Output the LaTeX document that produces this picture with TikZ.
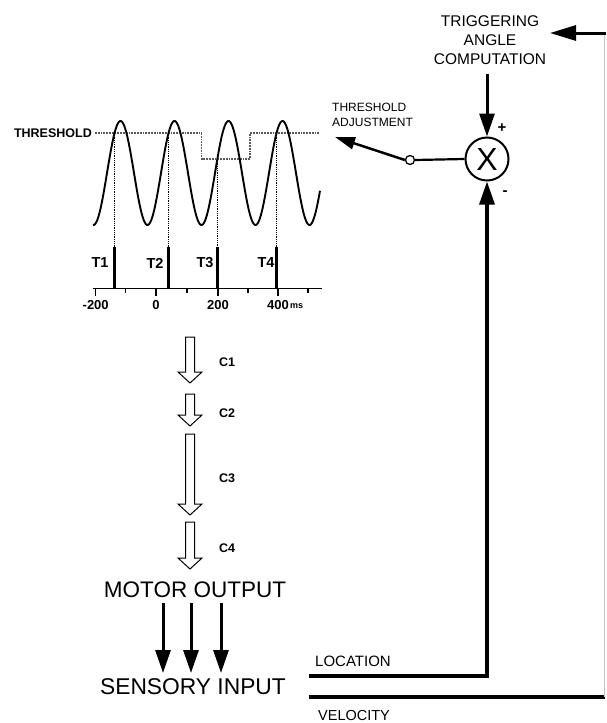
\documentclass[tikz,border=0pt]{standalone}
\usepackage{fontspec}
\setmainfont{Liberation Sans}
\usetikzlibrary{arrows.meta,calc}
\begin{document}
\begin{tikzpicture}[x=1pt,y=-1pt,
  txt/.style={inner sep=0pt, align=center},
  boldlbl/.style={txt, font=\bfseries\fontsize{13}{15}\selectfont},
  thick line/.style={line width=3pt},
  bigtip/.style={-{Triangle[width=15pt,length=23pt]}},
  hollow/.style={line width=1pt, fill=white},
  pulse/.style={line width=3.5pt},
  guide/.style={densely dotted, line width=0.8pt},
  thresh/.style={densely dotted, line width=1.8pt, gray!70!black}
]
\useasboundingbox (0,0) rectangle (606,723);

% ---------- threshold and wave ----------
\node[txt, font=\bfseries\fontsize{12.5}{14}\selectfont, anchor=east] (thlabel) at (92,133) {THRESHOLD};
\draw[thresh] (95,133) -- (201.5,133) -- (201.5,159) -- (250,159) -- (250,133) -- (320,133);
\draw[line width=1.9pt] plot[domain=93:320, samples=220] (\x, {173 - 52*cos(6.6667*(\x-120.5))});

% dotted guides from crossings to pulses
\foreach \px/\py in {114.5/133, 168.5/133, 217.3/159, 276.5/133}
  \draw[guide] (\px,\py) -- (\px,247);
% pulses
\foreach \px in {114.5, 168.5, 217.3, 276.5}
  \draw[pulse] (\px,247) -- (\px,288);
\node[boldlbl, font=\bfseries\fontsize{14.5}{16}\selectfont] (t1) at (100,263) {T1};
\node[boldlbl, font=\bfseries\fontsize{14.5}{16}\selectfont] (t2) at (155,263) {T2};
\node[boldlbl, font=\bfseries\fontsize{14.5}{16}\selectfont] (t3) at (205,263) {T3};
\node[boldlbl, font=\bfseries\fontsize{14.5}{16}\selectfont] (t4) at (266,263) {T4};

% time axis
\draw[line width=1.5pt] (93,288.5) -- (322,288.5);
\foreach \tx in {95.7, 156, 218, 278}
  \draw[line width=1.3pt] (\tx,288) -- (\tx,296);
\foreach \tx in {125.5, 187, 248, 308}
  \draw[line width=1.2pt] (\tx,288) -- (\tx,292.5);
\node[boldlbl] (m200) at (95.7,305) {-200};
\node[boldlbl] (z0) at (156,305) {0};
\node[boldlbl] (p200) at (218,305) {200};
\node[boldlbl, anchor=east] (p400) at (289,305) {400};
\node[txt, font=\bfseries\fontsize{9}{10}\selectfont, anchor=west] (ms) at (290,306) {ms};

% ---------- hollow arrows ----------
\newcommand{\hollowarr}[2]{%
  \draw[hollow] (185.5,#1) -- (194.5,#1) -- (194.5,{#2-11}) -- (202,{#2-11}) -- (190,#2)
     -- (178,{#2-11}) -- (185.5,{#2-11}) -- cycle;}
\hollowarr{337}{383}
\hollowarr{394}{426}
\hollowarr{434}{515}
\hollowarr{522}{569}
\node[boldlbl, font=\bfseries\fontsize{12.5}{14}\selectfont] (c1) at (227,362) {C1};
\node[boldlbl, font=\bfseries\fontsize{12.5}{14}\selectfont] (c2) at (227,413) {C2};
\node[boldlbl, font=\bfseries\fontsize{12.5}{14}\selectfont] (c3) at (227,478) {C3};
\node[boldlbl, font=\bfseries\fontsize{12.5}{14}\selectfont] (c4) at (227,548) {C4};

% ---------- motor / sensory ----------
\node[txt, font=\fontsize{22.5}{24}\selectfont] (motor) at (195,590) {MOTOR OUTPUT};
\node[txt, font=\fontsize{22.8}{24}\selectfont] (sensory) at (193,687) {SENSORY INPUT};
\foreach \ax in {163, 191, 221}
  \draw[thick line, bigtip] (\ax,603) -- (\ax,673);

% ---------- comparator ----------
\node[circle, draw, line width=2pt, minimum size=43pt, inner sep=0pt,
      font=\fontsize{32}{34}\selectfont] (sum) at (487,159) {X};
\node[txt, font=\fontsize{15.5}{19}\selectfont] (trig) at (490,40)
  {TRIGGERING\\ANGLE\\COMPUTATION};
\node[txt, font=\bfseries\fontsize{15}{16}\selectfont] (plus) at (502,128) {+};
\node[txt, font=\bfseries\fontsize{15}{16}\selectfont] (minus) at (505,193) {-};
\coordinate (trigtop) at (487,74);
\draw[thick line, bigtip] (trigtop) -- (sum.north);

% switch
\node[circle, draw, line width=1.3pt, fill=white, minimum size=9pt, inner sep=0pt] (sw) at (410,160) {};
\draw[line width=2.2pt] (sw.east) -- (sum.west);
\coordinate (adjtip) at (335,137);
\draw[line width=2.5pt, -{Triangle[width=12pt,length=20pt]}] (sw.west) -- (adjtip);
\node[txt, align=left, anchor=west, font=\fontsize{12}{14.5}\selectfont] (adj) at (332,115)
  {THRESHOLD\\ADJUSTMENT};

% ---------- feedback lines ----------
\coordinate (locstart) at (309,676);
\coordinate (velstart) at (309,697);
\coordinate (velend) at (604.5,697);
\coordinate (rtop) at (604.5,33);
\coordinate (trigin) at (550,33);
\draw[thick line, line width=3.2pt, bigtip] (locstart) -| (sum.south);
\draw[thick line, line width=3.5pt] (velstart) -- (velend);
\draw[line width=0.8pt, gray!45] (velend) -- (rtop);
\draw[thick line, -{Triangle[width=15pt,length=26pt]}] (606,33) -- (trigin);
\node[txt, font=\fontsize{15}{17}\selectfont, anchor=west] (loc) at (315,661) {LOCATION};
\node[txt, font=\fontsize{14.5}{16}\selectfont, anchor=west] (vel) at (318,715) {VELOCITY};
\end{tikzpicture}
\end{document}
